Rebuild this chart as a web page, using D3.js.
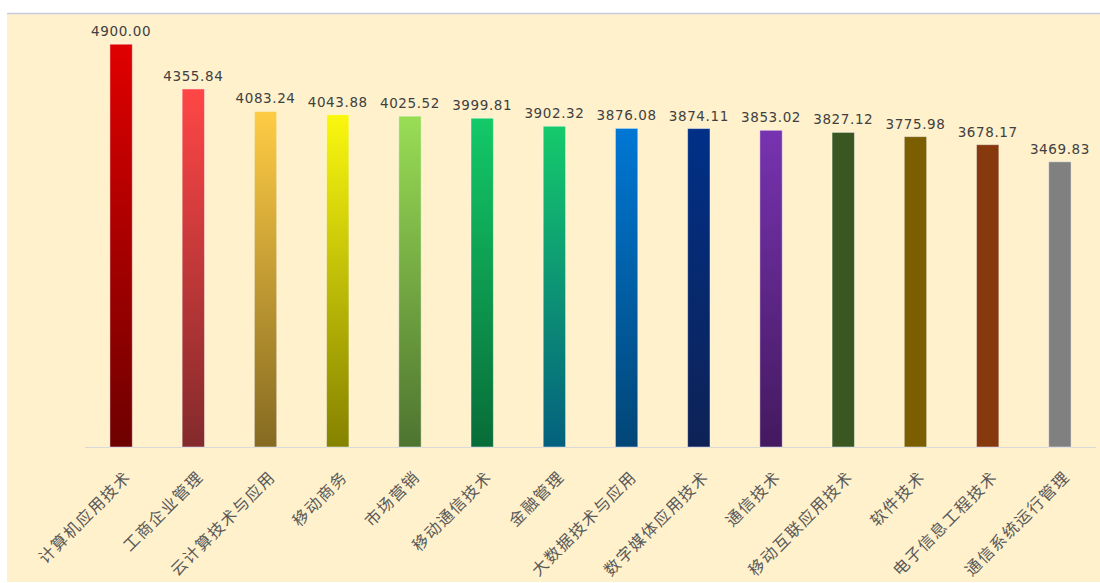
<!DOCTYPE html>
<html>
<head>
<meta charset="utf-8">
<script src="https://cdn.jsdelivr.net/npm/d3@7"></script>
<style>
    html, body { margin: 0; padding: 0; background: #fff; }
    svg { display: block; }
</style>
</head>
<body>
<div id="chart"></div>
<script>
// Chart data
const majors = ['计算机应用技术', '工商企业管理', '云计算技术与应用', '移动商务', '市场营销', '移动通信技术',
    '金融管理', '大数据技术与应用', '数字媒体应用技术', '通信技术', '移动互联应用技术', '软件技术',
    '电子信息工程技术', '通信系统运行管理'];
const salaries = [4900.00, 4355.84, 4083.24, 4043.88, 4025.52, 3999.81, 3902.32, 3876.08, 3874.11,
    3853.02, 3827.12, 3775.98, 3678.17, 3469.83];

// Bar colours (top of bar -> bottom of bar)
const topColors = ['#E00000', '#FF4646', '#FFCC44', '#FAF80F', '#99DD55', '#13C968', '#15CA6B',
    '#0077D4', '#003087', '#7733B0', '#3A5722', '#7B5E00', '#86390D', '#808080'];
const bottomColors = ['#6E0000', '#832A2C', '#856A22', '#858200', '#4E7430', '#086C38', '#04607E',
    '#024676', '#0E2256', '#44195F', '#3A5722', '#7B5E00', '#86390D', '#808080'];

const width = 1100, height = 583;
const baseY = 447;

const svg = d3.select('#chart').append('svg')
    .attr('width', width)
    .attr('height', height);

// cream plot background + thin top border
svg.append('rect')
    .attr('x', 7).attr('y', 14)
    .attr('width', width - 7).attr('height', 568)
    .attr('fill', '#FFF1CC');
svg.append('line')
    .attr('x1', 7).attr('x2', width)
    .attr('y1', 13.5).attr('y2', 13.5)
    .attr('stroke', '#C8CCDC')
    .attr('stroke-width', 1.5);

const x = d3.scaleBand()
    .domain(majors)
    .range([85, 1096])
    .paddingInner(0.69)
    .paddingOuter(0.345);

const y = d3.scaleLinear()
    .domain([0, 5000])
    .range([baseY, 36]);

// gradients, one per bar
const defs = svg.append('defs');
majors.forEach((m, i) => {
    const g = defs.append('linearGradient')
        .attr('id', 'grad' + i)
        .attr('x1', 0).attr('y1', 0)
        .attr('x2', 0).attr('y2', 1);
    g.append('stop').attr('offset', '0%').attr('stop-color', topColors[i]);
    g.append('stop').attr('offset', '100%').attr('stop-color', bottomColors[i]);
});

// x axis line
svg.append('line')
    .attr('x1', x.range()[0]).attr('x2', x.range()[1])
    .attr('y1', baseY + 0.5).attr('y2', baseY + 0.5)
    .attr('stroke', '#D9D9D9')
    .attr('stroke-width', 1);

// bars
svg.selectAll('rect.bar')
    .data(salaries)
    .join('rect')
    .attr('class', 'bar')
    .attr('x', (d, i) => x(majors[i]))
    .attr('y', d => y(d))
    .attr('width', x.bandwidth())
    .attr('height', d => baseY - y(d))
    .attr('fill', (d, i) => `url(#grad${i})`)
    .attr('stroke', 'rgba(255,255,255,0.45)')
    .attr('stroke-width', 1);

// value labels
svg.selectAll('text.val')
    .data(salaries)
    .join('text')
    .attr('class', 'val')
    .attr('x', (d, i) => x(majors[i]) + x.bandwidth() / 2)
    .attr('y', d => y(d) - 8)
    .attr('text-anchor', 'middle')
    .style('font-family', '"DejaVu Sans", sans-serif')
    .style('font-size', '13.5px')
    .style('letter-spacing', '0.6px')
    .style('fill', '#404040')
    .text(d => d.toFixed(2));

// category labels, rotated
svg.selectAll('text.cat')
    .data(majors)
    .join('text')
    .attr('class', 'cat')
    .attr('transform', d => `translate(${x(d) + x.bandwidth() / 2 + 7},${baseY + 27}) rotate(-45)`)
    .attr('text-anchor', 'end')
    .attr('dy', '0.35em')
    .style('font-family', '"Noto Sans CJK SC", sans-serif')
    .style('font-size', '16px')
    .style('letter-spacing', '1.5px')
    .style('fill', '#595959')
    .text(d => d);
</script>
</body>
</html>
